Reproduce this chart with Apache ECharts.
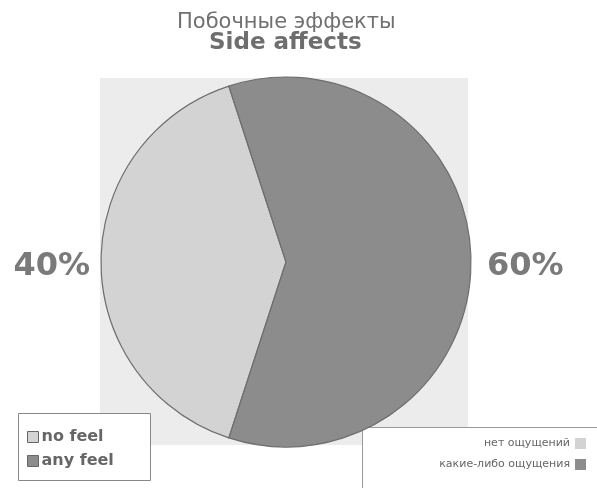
<!DOCTYPE html>
<html><head><meta charset="utf-8">
<script src="https://cdn.jsdelivr.net/npm/echarts@6/dist/echarts.min.js"></script>
<style>html,body{margin:0;padding:0;background:#fff}#c{width:597px;height:488px}</style>
</head><body><div id="c"></div>
<script>
const titleRu = 'Побочные эффекты';
const titleEn = 'Side affects';
const categories = ['no feel', 'any feel'];
const categoriesRu = ['нет ощущений', 'какие-либо ощущения'];
const values = [40, 60];
const colors = ['#d3d3d3', '#8c8c8c'];

const chart = echarts.init(document.getElementById('c'), null, {renderer: 'canvas'});
chart.setOption({
  animation: false,
  backgroundColor: '#fff',
  title: [
    {text: titleRu, left: 177, top: 12, padding: 0,
     textStyle: {fontFamily: 'DejaVu Sans', fontSize: 21, fontWeight: 'normal', color: '#707070'}},
    {text: titleEn, left: 209, top: 32, padding: 0,
     textStyle: {fontFamily: 'DejaVu Sans', fontSize: 23, fontWeight: 'bold', color: '#6e6e6e'}}
  ],
  graphic: [
    {type: 'rect', z: -10, shape: {x: 100, y: 78, width: 368, height: 367}, style: {fill: '#ececec'}},
    {type: 'rect', z: -5, shape: {x: 18.5, y: 413.5, width: 132, height: 67}, style: {fill: '#fff', stroke: '#888', lineWidth: 1}},
    {type: 'polyline', z: -5, shape: {points: [[362.5, 488], [362.5, 427.5], [597, 427.5]]}, style: {fill: null, stroke: '#999', lineWidth: 1}},
    {type: 'rect', z: -6, shape: {x: 363, y: 428, width: 234, height: 60}, style: {fill: '#fff'}}
  ],
  legend: [
    {orient: 'vertical', left: 22, top: 424, itemWidth: 11, itemHeight: 11, itemGap: 8, icon: 'rect',
     data: categories, selectedMode: false,
     itemStyle: {borderColor: '#666', borderWidth: 1},
     textStyle: {fontFamily: 'DejaVu Sans', fontSize: 16, fontWeight: 'bold', color: '#666', padding: [0, 0, 0, -2]}},
    {orient: 'vertical', right: 6, top: 433, itemWidth: 11, itemHeight: 11, itemGap: 10, align: 'right', icon: 'rect',
     data: categories, selectedMode: false,
     formatter: n => categoriesRu[categories.indexOf(n)],
     itemStyle: {borderWidth: 0},
     textStyle: {fontFamily: 'DejaVu Sans', fontSize: 11, color: '#666'}}
  ],
  series: [{
    type: 'pie',
    center: [286, 262],
    radius: 185,
    startAngle: 252,
    clockwise: true,
    avoidLabelOverlap: false,
    data: categories.map((n, i) => ({name: n, value: values[i], itemStyle: {color: colors[i]}})),
    itemStyle: {borderColor: '#6e6e6e', borderWidth: 1.2},
    label: {position: 'outside', formatter: '{d}%', fontFamily: 'DejaVu Sans', fontSize: 32,
            fontWeight: 'bold', color: '#7a7a7a'},
    labelLine: {show: false, length: 2, length2: 2},
    labelLayout: p => ({dy: 5, dx: p.dataIndex === 1 ? 7 : -2}),
    emphasis: {disabled: true}
  }]
});
</script></body></html>
